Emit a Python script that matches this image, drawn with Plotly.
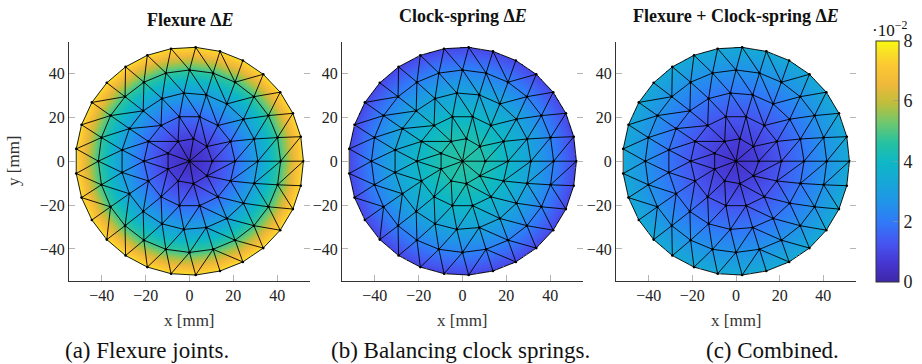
import numpy as np
import plotly.graph_objects as go

# ---------------- data ----------------
# ring-structured FE mesh (center -> rim), angles start at +x axis
ring_radius = [0.0, 10.4, 20.8, 31.2, 41.6, 52.0]
ring_count = [1, 9, 14, 19, 24, 29]

# nodal energy difference per ring
flexure_dE = [0.003, 0.008, 0.017, 0.030, 0.048, 0.076]
clock_dE = [0.046, 0.044, 0.039, 0.032, 0.022, 0.010]
combined_dE = [0.005, 0.008, 0.013, 0.019, 0.026, 0.034]

panel_titles = ["<b>Flexure Δ<i>E</i></b>",
                "<b>Clock-spring Δ<i>E</i></b>",
                "<b>Flexure + Clock-spring Δ<i>E</i></b>"]
captions = ["(a) Flexure joints.", "(b) Balancing clock springs.", "(c) Combined."]
axis_ticks = [-40, -20, 0, 20, 40]
cbar_ticks = [0.0, 0.02, 0.04, 0.06, 0.08]
cbar_labels = ["0", "2", "4", "6", "8"]

parula = [
    [0.000, "rgb(62,38,168)"],
    [0.080, "rgb(70,55,210)"],
    [0.160, "rgb(70,85,240)"],
    [0.250, "rgb(48,122,248)"],
    [0.330, "rgb(32,148,232)"],
    [0.420, "rgb(22,168,214)"],
    [0.500, "rgb(14,184,196)"],
    [0.580, "rgb(40,194,160)"],
    [0.660, "rgb(110,200,110)"],
    [0.740, "rgb(190,190,60)"],
    [0.820, "rgb(240,184,58)"],
    [0.900, "rgb(252,200,50)"],
    [0.960, "rgb(248,228,36)"],
    [1.000, "rgb(249,251,14)"],
]

FONT = "Liberation Serif"
W, H = 922, 364

# ---------------- mesh ----------------
nodes_x, nodes_y, nodes_ring = [], [], []
ring_nodes = []
for k, (r, n) in enumerate(zip(ring_radius, ring_count)):
    idx = []
    for i in range(n):
        a = 2 * np.pi * i / n
        idx.append(len(nodes_x))
        nodes_x.append(r * np.cos(a))
        nodes_y.append(r * np.sin(a))
        nodes_ring.append(k)
    ring_nodes.append(idx)
nodes_x = np.array(nodes_x)
nodes_y = np.array(nodes_y)
nodes_ring = np.array(nodes_ring)

tris = []
c = ring_nodes[0][0]
r1 = ring_nodes[1]
for i in range(len(r1)):
    tris.append((c, r1[i], r1[(i + 1) % len(r1)]))
for k in range(1, len(ring_nodes) - 1):
    A, B = ring_nodes[k], ring_nodes[k + 1]
    na, nb = len(A), len(B)
    i = j = 0
    while i < na or j < nb:
        if i >= na:
            adv_a = False
        elif j >= nb:
            adv_a = True
        else:
            adv_a = (i + 1) / na < (j + 1) / nb
        if adv_a:
            tris.append((A[i], A[(i + 1) % na], B[j % nb]))
            i += 1
        else:
            tris.append((A[i % na], B[j], B[(j + 1) % nb]))
            j += 1

edges = set()
for t in tris:
    for a, b in ((t[0], t[1]), (t[1], t[2]), (t[2], t[0])):
        edges.add((min(a, b), max(a, b)))
ex, ey = [], []
for a, b in sorted(edges):
    ex += [nodes_x[a], nodes_x[b], None]
    ey += [nodes_y[a], nodes_y[b], None]

gx = np.linspace(-53, 53, 330)
gy = np.linspace(-53, 53, 330)
GX, GY = np.meshgrid(gx, gy)


def shade(ring_vals):
    v = np.array(ring_vals)[nodes_ring]
    Z = np.full(GX.shape, np.nan)
    for t in tris:
        x0, x1, x2 = nodes_x[list(t)]
        y0, y1, y2 = nodes_y[list(t)]
        d = (y1 - y2) * (x0 - x2) + (x2 - x1) * (y0 - y2)
        l0 = ((y1 - y2) * (GX - x2) + (x2 - x1) * (GY - y2)) / d
        l1 = ((y2 - y0) * (GX - x2) + (x0 - x2) * (GY - y2)) / d
        l2 = 1 - l0 - l1
        m = (l0 >= -1e-9) & (l1 >= -1e-9) & (l2 >= -1e-9)
        Z[m] = (l0 * v[t[0]] + l1 * v[t[1]] + l2 * v[t[2]])[m]
    return Z


fig = go.Figure()
fields = [flexure_dE, clock_dE, combined_dE]
xdom_px = [(69, 310), (342, 583), (616, 856)]
ydom = [(364 - 280.7) / H, (364 - 41.7) / H]

for p, vals in enumerate(fields):
    xa = "x" if p == 0 else f"x{p+1}"
    ya = "y" if p == 0 else f"y{p+1}"
    fig.add_trace(go.Heatmap(x=gx, y=gy, z=shade(vals), coloraxis="coloraxis",
                             hoverinfo="skip", xaxis=xa, yaxis=ya))
    fig.add_trace(go.Scatter(x=ex, y=ey, mode="lines", line=dict(color="black", width=0.9),
                             hoverinfo="skip", showlegend=False, xaxis=xa, yaxis=ya))
    fig.add_trace(go.Scatter(x=nodes_x, y=nodes_y, mode="markers",
                             marker=dict(color="black", size=2.6), hoverinfo="skip",
                             showlegend=False, xaxis=xa, yaxis=ya))
    # dummy trace for mirrored right-side ticks
    fig.add_trace(go.Scatter(x=[0], y=[0], mode="markers", marker=dict(opacity=0),
                             hoverinfo="skip", showlegend=False, xaxis=xa, yaxis=f"y{p+4}"))

axis_common = dict(showgrid=False, zeroline=False, ticks="inside", ticklen=6,
                   tickcolor="#b5b5b5", tickwidth=1,
                   tickfont=dict(family=FONT, size=16, color="#222"))
for p in range(3):
    sx = "" if p == 0 else str(p + 1)
    x0, x1 = xdom_px[p]
    fig.layout[f"xaxis{sx}"] = dict(domain=[x0 / W, x1 / W], range=[-55, 55],
                                    anchor=f"y{sx}", tickvals=axis_ticks,
                                    showline=True, linecolor="#333", linewidth=1,
                                    **axis_common)
    fig.layout[f"yaxis{sx}"] = dict(domain=ydom, range=[-54.5, 54.5],
                                    anchor=f"x{sx}", tickvals=axis_ticks,
                                    showline=True, linecolor="#333", linewidth=1,
                                    **axis_common)
    fig.layout[f"yaxis{p+4}"] = dict(domain=ydom, range=[-54.5, 54.5],
                                     overlaying=f"y{sx}", side="right", anchor=f"x{sx}",
                                     tickvals=axis_ticks, showticklabels=False,
                                     showline=False, **axis_common)

fig.update_layout(
    width=W, height=H, autosize=False,
    margin=dict(l=0, r=0, t=0, b=0),
    paper_bgcolor="white", plot_bgcolor="rgba(0,0,0,0)",
    showlegend=False,
    coloraxis=dict(
        colorscale=parula, cmin=0, cmax=0.08,
        colorbar=dict(x=876 / W, xanchor="left", y=1 - 40.7 / H, yanchor="top",
                      len=241 / H, lenmode="fraction", thickness=23,
                      thicknessmode="pixels", xpad=0, ypad=0,
                      outlinewidth=1, outlinecolor="#333",
                      tickvals=cbar_ticks, ticktext=cbar_labels,
                      ticks="inside", ticklen=6, tickcolor="rgba(150,150,150,0.6)",
                      tickfont=dict(family=FONT, size=18, color="#222")),
    ),
)


def px(x, y):
    return x / W, 1 - y / H


annots = []
title_pos = [(189.5, 20), (462.5, 16.5), (736, 16.5)]
for t, (x, y) in zip(panel_titles, title_pos):
    ax_, ay_ = px(x, y)
    annots.append(dict(text=t, x=ax_, y=ay_, xref="paper", yref="paper",
                       xanchor="center", yanchor="middle", showarrow=False,
                       font=dict(family=FONT, size=18, color="#111")))
for x in (189.5, 462.5, 736):
    ax_, ay_ = px(x, 320)
    annots.append(dict(text="x [mm]", x=ax_, y=ay_, xref="paper", yref="paper",
                       xanchor="center", yanchor="middle", showarrow=False,
                       font=dict(family=FONT, size=17, color="#333")))
ax_, ay_ = px(13, 161)
annots.append(dict(text="y [mm]", x=ax_, y=ay_, xref="paper", yref="paper",
                   xanchor="center", yanchor="middle", showarrow=False, textangle=-90,
                   font=dict(family=FONT, size=17, color="#333")))
for t, x in zip(captions, (147, 460, 772)):
    ax_, ay_ = px(x, 350)
    annots.append(dict(text=t, x=ax_, y=ay_, xref="paper", yref="paper",
                       xanchor="center", yanchor="middle", showarrow=False,
                       font=dict(family=FONT, size=23, color="#111")))
ax_, ay_ = px(889, 29)
annots.append(dict(text="·10<sup>−2</sup>", x=ax_, y=ay_, xref="paper", yref="paper",
                   xanchor="center", yanchor="middle", showarrow=False,
                   font=dict(family=FONT, size=17, color="#111")))
fig.update_layout(annotations=annots)

fig.write_html("out.html")
